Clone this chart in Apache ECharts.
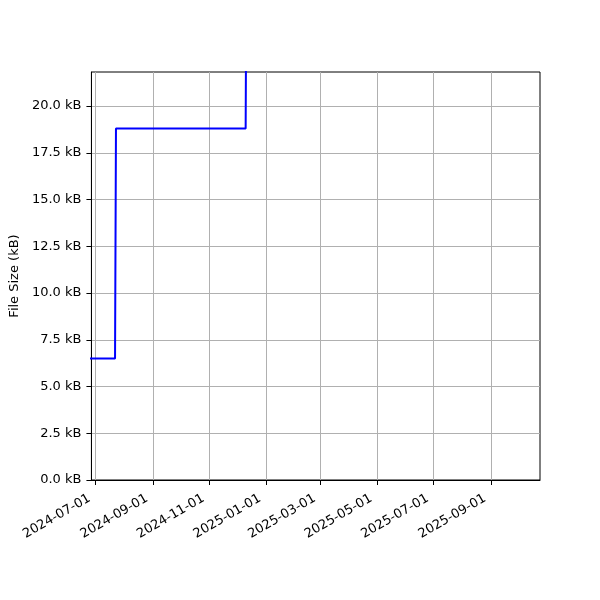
<!DOCTYPE html>
<html>
<head>
<meta charset="utf-8">
<script src="https://cdn.jsdelivr.net/npm/echarts@6/dist/echarts.min.js"></script>
<style>
    html, body { margin: 0; padding: 0; background: #fff; }
    #chart { width: 600px; height: 600px; }
</style>
</head>
<body>
<div id="chart"></div>
<script>
// step points of the file size history (last point runs off the top)
const dates = ['2024-06-20', '2024-07-22', '2024-07-23', '2024-12-10', '2024-12-11']
const sizes = [6.5, 6.5, 18.8, 18.8, 30]
const xTicks = ['2024-07-01', '2024-09-01', '2024-11-01', '2025-01-01', '2025-03-01', '2025-05-01', '2025-07-01', '2025-09-01']
const yTicks = [0, 2.5, 5, 7.5, 10, 12.5, 15, 17.5, 20]

const ts = (s) => {
    const p = s.split('-').map(Number)
    return Date.UTC(p[0], p[1] - 1, p[2])
}
const pad = (n) => String(n).padStart(2, '0')
const fmtDate = (v) => {
    const d = new Date(v)
    return d.getUTCFullYear() + '-' + pad(d.getUTCMonth() + 1) + '-' + pad(d.getUTCDate())
}

const font = 'DejaVu Sans'
const chart = echarts.init(document.getElementById('chart'))
const option = {
    animation: false,
    backgroundColor: '#fff',
    grid: {
        left: 90,
        right: 60,
        top: 72,
        bottom: 120,
        show: true,
        borderColor: '#000',
        borderWidth: 1,
        backgroundColor: 'transparent',
    },
    xAxis: {
        type: 'value',
        min: ts('2024-06-26') + 12 * 3600e3,
        max: ts('2025-10-23') + 18 * 3600e3,
        axisLine: { show: true, onZero: false, lineStyle: { color: '#000', width: 1 } },
        axisTick: { show: true, length: 5, lineStyle: { color: '#000' }, customValues: xTicks.map(ts) },
        axisLabel: {
            rotate: 30,
            color: '#000',
            fontFamily: font,
            fontSize: 13,
            margin: 14,
            padding: [0, 7, 0, 0],
            customValues: xTicks.map(ts),
            formatter: (v) => fmtDate(v),
        },
        splitLine: { show: true, lineStyle: { color: '#b0b0b0', width: 1 } },
    },
    yAxis: {
        type: 'value',
        min: 0,
        max: 21.82,
        name: 'File Size (kB)',
        nameLocation: 'middle',
        nameGap: 63,
        nameTextStyle: { color: '#000', fontFamily: font, fontSize: 13 },
        axisLine: { show: true, lineStyle: { color: '#000', width: 1 } },
        axisTick: { show: true, length: 5, lineStyle: { color: '#000' }, customValues: yTicks },
        axisLabel: {
            color: '#000',
            fontFamily: font,
            fontSize: 13,
            margin: 10,
            customValues: yTicks,
            formatter: (v) => v.toFixed(1) + ' kB',
        },
        splitLine: { show: true, lineStyle: { color: '#b0b0b0', width: 1 } },
    },
    series: [
        {
            type: 'line',
            data: dates.map((d, i) => [ts(d), sizes[i]]),
            showSymbol: false,
            clip: true,
            lineStyle: { color: '#0000ff', width: 2 },
            itemStyle: { color: '#0000ff' },
        },
    ],
}
chart.setOption(option)
window.addEventListener('resize', () => {
    chart.resize()
})
</script>
</body>
</html>
